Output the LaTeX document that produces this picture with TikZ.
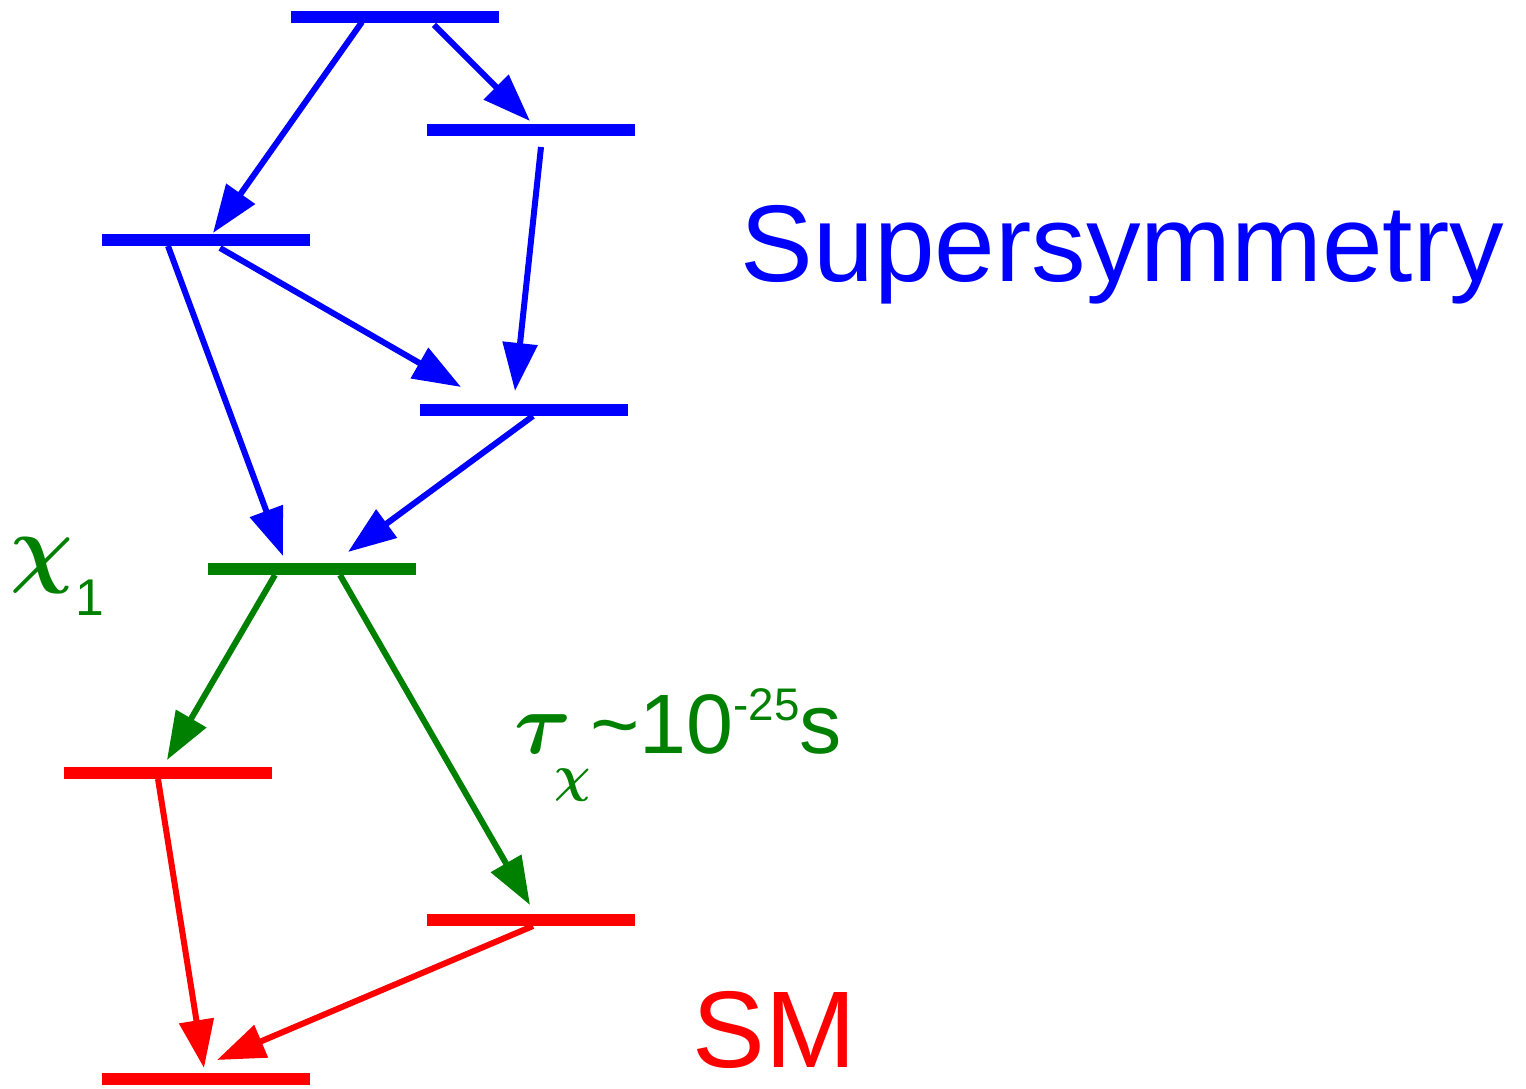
\documentclass[tikz,border=0pt]{standalone}
\usepackage{bm}
\usepackage{fontspec}
\setmainfont{Liberation Sans}
\usetikzlibrary{arrows.meta,calc}
\definecolor{lspgreen}{RGB}{0,128,0}

\begin{document}
\begin{tikzpicture}[x=0.01cm, y=-0.01cm,
	level/.style={fill=#1, minimum width=2.08cm, minimum height=0.12cm, inner sep=0pt, outer sep=0pt},
	decay/.style={draw=#1, line width=0.06cm, -{Triangle[length=0.48cm, width=0.34cm]}},
	tag/.style={text=#1, inner sep=0pt, anchor=base west}]

	\useasboundingbox (0,0) rectangle (1526,1089);

	\node[level=blue] (top) at (395,17) {};
	\node[level=blue] (susyB) at (531,130) {};
	\node[level=blue] (susyA) at (206,240) {};
	\node[level=blue] (susyC) at (524,410) {};
	\node[level=lspgreen] (lsp) at (312,569) {};
	\node[level=red] (smA) at (168,773) {};
	\node[level=red] (smB) at (531,920) {};
	\node[level=red] (smC) at (206,1079) {};

	\draw[decay=blue] ($(top)+(-33,5)$) -- ($(susyA)+(7,-7)$);
	\draw[decay=blue] ($(top)+(39,8)$) -- ($(susyB)+(-1,-9)$);
	\draw[decay=blue] ($(susyB)+(10,17)$) -- ($(susyC)+(-9,-19)$);
	\draw[decay=blue] ($(susyA)+(-38,6)$) -- ($(lsp)+(-29,-13)$);
	\draw[decay=blue] ($(susyA)+(14,8)$) -- ($(susyC)+(-63,-23)$);
	\draw[decay=blue] ($(susyC)+(9,6)$) -- ($(lsp)+(36,-17)$);
	\draw[decay=lspgreen] ($(lsp)+(-37,6)$) -- ($(smA)+(-1,-13)$);
	\draw[decay=lspgreen] ($(lsp)+(28,6)$) -- ($(smB)+(-1,-15)$);
	\draw[decay=red] ($(smA)+(-10,6)$) -- ($(smC)+(-2,-11)$);
	\draw[decay=red] ($(smB)+(2,6)$) -- ($(smC)+(11,-19)$);

	\node[tag=blue, font=\fontsize{31}{36}\selectfont] (susyname) at (740,282) {Supersymmetry};
	\node[tag=red, font=\fontsize{31}{36}\selectfont] (smname) at (692,1068) {SM};
	\node[tag=lspgreen, font=\fontsize{34}{40}\selectfont] (chiname) at (10,577) {$\bm{\chi}$\hspace{0.02cm}\raisebox{-0.38cm}{\fontsize{14.7}{16}\selectfont 1}};
	\node[tag=lspgreen, font=\fontsize{29}{36}\selectfont] (lifetime) at (514,754) {$\bm{\tau}$\hspace{-0.18cm}\raisebox{-0.37cm}{\fontsize{15}{20}\selectfont$\bm{\chi}$}\fontsize{24}{30}\selectfont\char"7E 10\raisebox{0.33cm}{\fontsize{13}{16}\selectfont -25}s};

\end{tikzpicture}
\end{document}
